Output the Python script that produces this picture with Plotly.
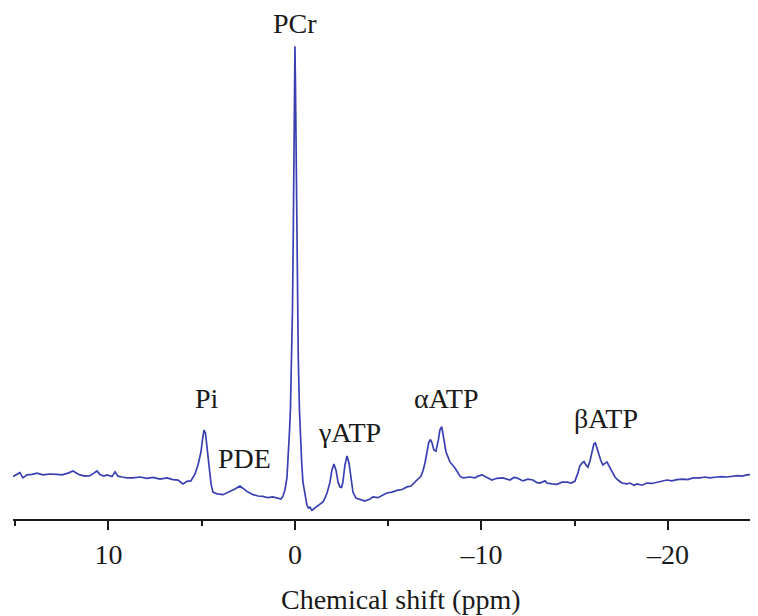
import plotly.graph_objects as go

# Chemical shift (ppm) and signal intensity (a.u., PCr = 100)
ppm = [
    15.12, 14.91, 14.75, 14.59, 14.37, 14.10, 13.83, 13.51, 13.13, 12.76,
    12.49, 12.17, 11.90, 11.64, 11.53, 11.26, 10.99, 10.78, 10.62, 10.46,
    10.24, 10.08, 9.81, 9.65, 9.49, 9.28, 9.01, 8.69, 8.31, 7.94,
    7.61, 7.24, 6.86, 6.54, 6.27, 6.01, 5.79, 5.58, 5.36, 5.20,
    5.04, 4.96, 4.88, 4.80, 4.72, 4.61, 4.50, 4.40, 4.18, 3.86,
    3.49, 3.22, 2.95, 2.79, 2.52, 2.25, 1.98, 1.72, 1.45, 1.18,
    0.97, 0.75, 0.64, 0.54,
    0.43, 0.375, 0.295, 0.241, 0.177, 0.134, 0.091, 0.054, 0.027, 0.0,
    -0.027, -0.054, -0.091, -0.134, -0.177, -0.241, -0.295, -0.359, -0.429,
    -0.54, -0.64, -0.72, -0.80, -0.91, -1.07, -1.23, -1.34, -1.50, -1.61,
    -1.72, -1.88, -1.98, -2.09, -2.20, -2.31, -2.41, -2.50, -2.57, -2.68,
    -2.79, -2.90, -3.00, -3.11, -3.27, -3.49, -3.75, -4.02, -4.18, -4.45,
    -4.72, -4.93, -5.20, -5.47, -5.74, -6.01, -6.22, -6.43, -6.60, -6.76,
    -6.86, -6.97, -7.08, -7.18, -7.27, -7.35, -7.45, -7.56, -7.69, -7.77,
    -7.87, -7.96, -8.10, -8.31, -8.58, -8.85, -9.01, -9.22, -9.38, -9.65,
    -9.81, -10.03, -10.30, -10.56, -10.83, -11.15, -11.53, -11.74, -11.90, -12.23,
    -12.49, -12.76, -12.98, -13.14, -13.41, -13.51, -13.78, -14.05, -14.32, -14.59,
    -14.80, -15.01, -15.17, -15.28, -15.39, -15.50, -15.60, -15.71, -15.82, -15.93,
    -16.03, -16.11, -16.19, -16.30, -16.41, -16.51, -16.62, -16.73, -16.84, -17.00,
    -17.16, -17.32, -17.53, -17.80, -17.96, -18.18, -18.34, -18.61, -18.87, -19.14,
    -19.41, -19.68, -19.95, -20.21, -20.48, -20.80, -21.07, -21.34, -21.72, -21.98,
    -22.25, -22.63, -22.89, -23.16, -23.48, -23.75, -23.97, -24.24, -24.50, -24.77,
]
intensity = [
    0.1, 0.7, 1.0, -0.2, 0.5, 0.6, 0.9, 0.5, 0.7, 0.6,
    0.5, 0.9, 1.4, 0.7, 0.5, 0.2, 0.3, 0.9, 1.4, 0.6,
    0.2, 0.5, 0.1, 1.2, 0.2, 0.0, -0.2, -0.2, 0.0, -0.3,
    -0.1, -0.5, -0.2, -0.6, -0.7, -1.6, -1.0, -0.9, 0.7, 2.8,
    5.8, 8.6, 10.9, 10.2, 6.7, 1.6, -1.6, -3.5, -3.9, -4.1,
    -3.4, -2.8, -2.1, -2.6, -3.5, -4.1, -4.4, -4.5, -4.8, -4.6,
    -4.9, -5.1, -4.4, -3.0,
    -0.2, 3.2, 10.4, 16.0, 27.1, 38.7, 56.1, 75.9, 91.0, 99.9,
    91.0, 75.9, 57.3, 39.9, 27.8, 15.5, 9.0, 3.5, -1.2,
    -4.2, -6.5, -7.2, -7.0, -7.7, -7.2, -6.7, -6.5, -5.8, -4.9,
    -3.7, -1.2, 1.6, 3.0, 1.6, -1.2, -2.3, -2.4, -1.2, 2.8,
    4.9, 3.2, -0.7, -3.5, -4.9, -5.3, -5.6, -5.1, -4.6, -4.8,
    -4.2, -3.7, -3.5, -3.1, -2.9, -2.3, -2.1, -1.2, -0.7, 0.2,
    1.4, 3.2, 5.8, 8.1, 8.7, 7.9, 6.3, 6.0, 8.6, 10.9,
    11.7, 9.5, 5.8, 3.5, 2.1, 0.2, -0.2, -0.1, 0.0, -0.2,
    0.2, 0.5, -0.2, -0.7, -0.3, -0.2, -0.7, -0.1, -0.2, -0.9,
    -0.5, -0.7, -1.3, -1.4, -0.9, -1.4, -1.6, -1.7, -1.2, -1.2,
    -1.4, -1.0, 0.9, 2.6, 3.2, 3.6, 2.8, 2.3, 3.7, 5.8,
    7.7, 7.9, 6.7, 4.9, 3.7, 2.8, 3.2, 3.5, 2.6, 1.2,
    0.0, -0.7, -1.4, -1.6, -1.4, -1.9, -1.6, -1.9, -1.4, -1.5,
    -1.2, -0.9, -0.7, -0.9, -0.6, -0.5, -0.6, -0.2, -0.2, 0.0,
    -0.2, 0.0, 0.1, 0.0, 0.2, 0.3, 0.2, 0.5, 0.6, 0.9,
]

tick_vals = [10, 0, -10, -20]
tick_text = ["10", "0", "\u201310", "\u201320"]
x_title = "Chemical shift (ppm)"

peak_labels = ["PCr", "Pi", "PDE", "\u03b3ATP", "\u03b1ATP", "\u03b2ATP"]
label_ppm = [0.0, 4.72, 2.68, -2.90, -8.10, -16.68]
label_int = [105.2, 18.3, 4.4, 10.4, 18.1, 13.5]

TXT = "#1a1a1a"
SERIF = "Liberation Serif"

fig = go.Figure()
fig.add_trace(go.Scatter(
    x=ppm, y=intensity, mode="lines",
    line=dict(color="#3a40b2", width=1.7),
    hoverinfo="skip", showlegend=False,
))

for t, xv, yv in zip(peak_labels, label_ppm, label_int):
    fig.add_annotation(
        x=xv, y=yv, text=t, showarrow=False, borderpad=0,
        xanchor="center", yanchor="middle",
        font=dict(family=SERIF, size=28, color=TXT),
    )

# axis title, placed as in the reference (slightly right of the plot centre)
fig.add_annotation(
    xref="paper", yref="paper", x=0.521, y=-0.162,
    text=x_title, showarrow=False, borderpad=0,
    xanchor="center", yanchor="middle",
    font=dict(family=SERIF, size=28, color=TXT),
)

# page body has an 8px default margin, so the figure is 750x608
fig.update_layout(
    width=750, height=608,
    margin=dict(l=5, r=0, t=12, b=97),
    paper_bgcolor="white", plot_bgcolor="white",
    font=dict(family=SERIF, color=TXT),
    xaxis=dict(
        range=[15.12, -24.83],
        tickvals=tick_vals, ticktext=tick_text,
        ticks="outside", ticklen=9, tickwidth=2, tickcolor=TXT,
        showline=True, linecolor=TXT, linewidth=2,
        showgrid=False, zeroline=False,
        tickfont=dict(family=SERIF, size=28, color=TXT),
        minor=dict(tickvals=[15, 5, -5, -15], ticks="outside", ticklen=5,
                   tickwidth=2, tickcolor=TXT, showgrid=False),
    ),
    yaxis=dict(
        range=[-9.74, 106.0], visible=False, showgrid=False, zeroline=False,
    ),
)

fig.write_html("out.html")
